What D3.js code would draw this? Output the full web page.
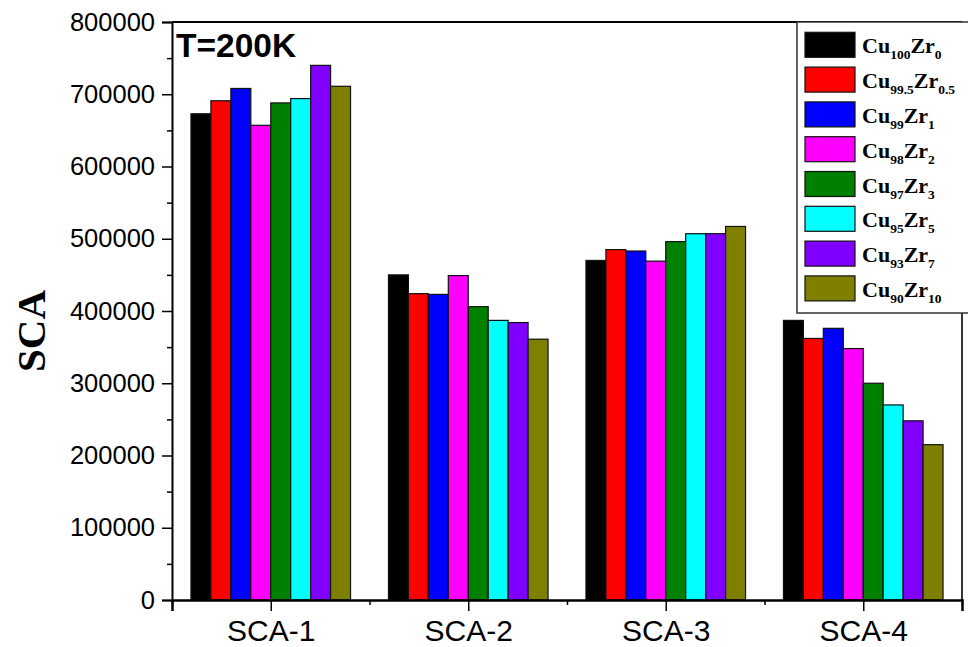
<!DOCTYPE html>
<html>
<head>
<meta charset="utf-8">
<script src="https://cdn.jsdelivr.net/npm/d3@7"></script>
<style>
  body { margin: 0; background: #fff; }
  svg { display: block; }
</style>
</head>
<body>
<div id="draw"></div>
<script>
// categories on the x axis
var categories = ["SCA-1", "SCA-2", "SCA-3", "SCA-4"];

// alloy series, legend text is built from these
var cuParts = ["100", "99.5", "99", "98", "97", "95", "93", "90"];
var zrParts = ["0", "0.5", "1", "2", "3", "5", "7", "10"];
var colors = ["#000000", "#ff0000", "#0000ff", "#ff00ff", "#008000", "#00ffff", "#8000ff", "#808000"];

// values per series, one per category
var s_Cu100 = [673000, 450000, 470000, 387000];
var s_Cu995 = [691000, 424000, 485000, 362000];
var s_Cu99  = [708000, 423000, 483000, 376000];
var s_Cu98  = [657000, 449000, 469000, 348000];
var s_Cu97  = [688000, 406000, 496000, 300000];
var s_Cu95  = [694000, 387000, 507000, 270000];
var s_Cu93  = [740000, 384000, 507000, 248000];
var s_Cu90  = [711000, 361000, 517000, 215000];
var seriesValues = [s_Cu100, s_Cu995, s_Cu99, s_Cu98, s_Cu97, s_Cu95, s_Cu93, s_Cu90];

var yTicks = [0, 100000, 200000, 300000, 400000, 500000, 600000, 700000, 800000];

var W = 968, H = 647;
var plotL = 172, plotT = 22, plotR = 962, plotB = 600;

var svg = d3.select('#draw').append('svg').attr('width', W).attr('height', H);

var x = d3.scaleLinear().domain([0.5, 4.5]).range([plotL, plotR]);
var step = x(2) - x(1);
var inner = d3.scaleBand().domain(d3.range(seriesValues.length))
    .range([-step * 0.404, step * 0.404]).padding(0);
var y = d3.scaleLinear().domain([0, 800000]).range([plotB, plotT]);

// bars
var rows = [];
seriesValues.forEach(function(vals, si){
    vals.forEach(function(v, ci){ rows.push({s: si, c: ci, v: v}); });
});
svg.append('g').selectAll('rect')
    .data(rows)
    .enter()
    .append('rect')
    .attr('x', function(d){ return x(d.c + 1) + inner(d.s); })
    .attr('y', function(d){ return y(d.v); })
    .attr('width', inner.bandwidth())
    .attr('height', function(d){ return y(0) - y(d.v); })
    .attr('fill', function(d){ return colors[d.s]; })
    .attr('stroke', '#111')
    .attr('stroke-width', 1.2);

// frame (top and right)
svg.append('line').attr('x1', plotL).attr('x2', plotR).attr('y1', plotT).attr('y2', plotT)
    .attr('stroke', '#000').attr('stroke-width', 2);
svg.append('line').attr('x1', plotR).attr('x2', plotR).attr('y1', plotT).attr('y2', plotB)
    .attr('stroke', '#333').attr('stroke-width', 2);

// y axis
var yAxis = d3.axisLeft(y).tickValues(yTicks).tickSize(10).tickPadding(7).tickFormat(d3.format('d'));
var gy = svg.append('g').attr('transform', 'translate(' + plotL + ',0)').call(yAxis);
gy.selectAll('text').attr('font-family', 'Arial, "Liberation Sans", sans-serif').attr('font-size', 25.5).attr('fill', '#000');
gy.select('.domain').attr('stroke-width', 2);
gy.selectAll('.tick line').attr('stroke-width', 1.5);
var yMinor = d3.axisLeft(y).tickValues(d3.range(50000, 800000, 100000)).tickSize(5).tickFormat('');
var gym = svg.append('g').attr('transform', 'translate(' + plotL + ',0)').call(yMinor);
gym.select('.domain').remove();
gym.selectAll('.tick line').attr('stroke-width', 1.5);

// x axis
var xAxis = d3.axisBottom(x).tickValues([1, 2, 3, 4]).tickSize(11).tickPadding(9)
    .tickFormat(function(d){ return categories[d - 1]; });
var gx = svg.append('g').attr('transform', 'translate(0,' + plotB + ')').call(xAxis);
gx.selectAll('text').attr('font-family', 'Arial, "Liberation Sans", sans-serif').attr('font-size', 30).attr('fill', '#000');
gx.select('.domain').attr('stroke-width', 2.5);
gx.selectAll('.tick line').attr('stroke-width', 1.5);
var xMinor = d3.axisBottom(x).tickValues([0.5, 1.5, 2.5, 3.5, 4.5]).tickSize(5).tickFormat('');
var gxm = svg.append('g').attr('transform', 'translate(0,' + plotB + ')').call(xMinor);
gxm.select('.domain').remove();
gxm.selectAll('.tick line').attr('stroke-width', 1.5);

// y axis title
svg.append('text')
    .attr('transform', 'translate(45,331) rotate(-90)')
    .attr('text-anchor', 'middle')
    .attr('font-family', '"Liberation Serif", "Times New Roman", serif')
    .attr('font-weight', 'bold')
    .attr('font-size', 41)
    .text('SCA');

// temperature label
svg.append('text')
    .attr('x', 176).attr('y', 57)
    .attr('font-family', 'Arial, "Liberation Sans", sans-serif')
    .attr('font-weight', 'bold')
    .attr('font-size', 33.5)
    .text('T=200K');

// legend
var lg = svg.append('g');
lg.append('rect').attr('x', 797).attr('y', 22).attr('width', 190).attr('height', 291)
    .attr('fill', '#fff').attr('stroke', '#333').attr('stroke-width', 1.5);
var item = lg.selectAll('g.item')
    .data(d3.range(seriesValues.length))
    .enter()
    .append('g')
    .attr('class', 'item')
    .attr('transform', function(i){ return 'translate(805,' + (32.3 + i * 34.8) + ')'; });
item.append('rect').attr('width', 50).attr('height', 25)
    .attr('fill', function(i){ return colors[i]; })
    .attr('stroke', '#111').attr('stroke-width', 1.2);
var lt = item.append('text').attr('x', 57).attr('y', 21)
    .attr('font-family', '"Liberation Serif", "Times New Roman", serif')
    .attr('font-weight', 'bold')
    .attr('font-size', 22);
lt.append('tspan').text('Cu');
lt.append('tspan').attr('dy', 6).attr('font-size', 13.5).text(function(i){ return cuParts[i]; });
lt.append('tspan').attr('dy', -6).text('Zr');
lt.append('tspan').attr('dy', 6).attr('font-size', 13.5).text(function(i){ return zrParts[i]; });
</script>
</body>
</html>
